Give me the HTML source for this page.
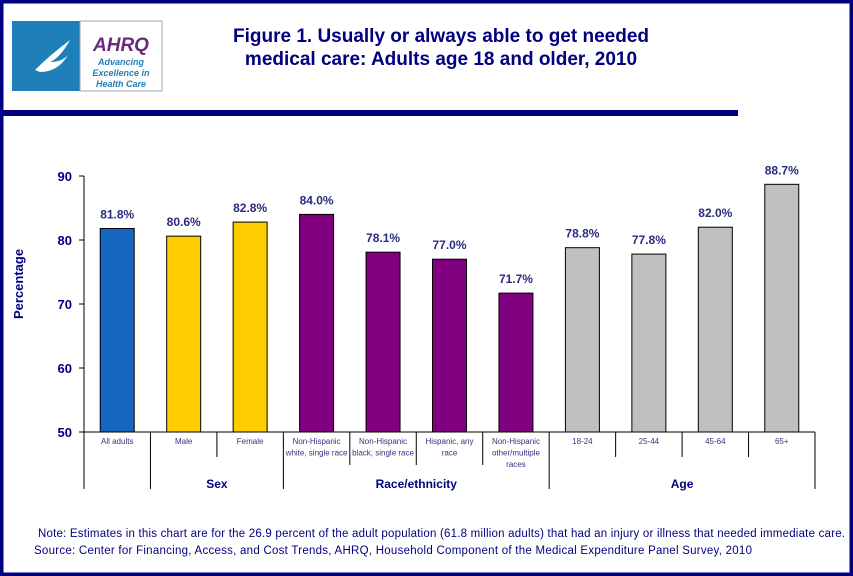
<!DOCTYPE html>
<html><head><meta charset="utf-8"><style>
body{margin:0;background:#fff}
svg{display:block;font-family:"Liberation Sans",Arial,sans-serif}
</style></head><body>
<svg id="c" width="853" height="576" viewBox="0 0 853 576">
<rect x="0" y="0" width="853" height="576" fill="#fff"/>
<rect x="1.5" y="1.5" width="850" height="573" fill="none" stroke="#000080" stroke-width="4"/>
<g>
<rect x="12" y="21" width="68" height="70" fill="#1f7fb8"/>
<path d="M35 70 Q50 55 70 40 Q60 58 50 62 Q62 62 68 55 Q58 72 40 72 Z" fill="#fff"/>
<rect x="80" y="21" width="82" height="70" fill="#fff" stroke="#9ab" stroke-width="1"/>
<text x="121" y="51" text-anchor="middle" font-size="19" font-weight="bold" font-style="italic" fill="#6a2a7a">AHRQ</text>
<text x="121" y="65" text-anchor="middle" font-size="9" font-style="italic" font-weight="bold" fill="#1f7fb8">Advancing</text>
<text x="121" y="76" text-anchor="middle" font-size="9" font-style="italic" font-weight="bold" fill="#1f7fb8">Excellence in</text>
<text x="121" y="87" text-anchor="middle" font-size="9" font-style="italic" font-weight="bold" fill="#1f7fb8">Health Care</text>
</g>
<text x="441" y="42" text-anchor="middle" font-size="19" font-weight="bold" fill="#000080">Figure 1. Usually or always able to get needed</text>
<text x="441" y="65" text-anchor="middle" font-size="19" font-weight="bold" fill="#000080">medical care: Adults age 18 and older, 2010</text>
<rect x="0" y="110" width="738" height="6" fill="#000080"/>
<text transform="translate(23,284) rotate(-90)" text-anchor="middle" font-size="13" font-weight="bold" fill="#000080">Percentage</text>
<g id="plot"></g>
<text x="845" y="537" text-anchor="end" font-size="11.5" textLength="807" fill="#000080">Note: Estimates in this chart are for the 26.9 percent of the adult population (61.8 million adults) that had an injury or illness that needed immediate care.</text>
<text x="34" y="554" font-size="11.5" textLength="718" fill="#000080">Source: Center for Financing, Access, and Cost Trends, AHRQ, Household Component of the Medical Expenditure Panel Survey,  2010</text>
</svg>
<script>
const categories=[["All adults"],["Male"],["Female"],["Non-Hispanic","white, single race"],["Non-Hispanic","black, single race"],["Hispanic, any","race"],["Non-Hispanic","other/multiple","races"],["18-24"],["25-44"],["45-64"],["65+"]];
const values=[81.8,80.6,82.8,84.0,78.1,77.0,71.7,78.8,77.8,82.0,88.7];
const valueLabels=["81.8%","80.6%","82.8%","84.0%","78.1%","77.0%","71.7%","78.8%","77.8%","82.0%","88.7%"];
const colors=["#1566c0","#ffcc00","#ffcc00","#800080","#800080","#800080","#800080","#c0c0c0","#c0c0c0","#c0c0c0","#c0c0c0"];
const yTicks=[50,60,70,80,90];
const groups=[{name:"Sex",start:1,end:3},{name:"Race/ethnicity",start:3,end:7},{name:"Age",start:7,end:11}];
const NS="http://www.w3.org/2000/svg";
const g=document.getElementById('plot');
const L=84,R=815,T=176,B=432,ymin=50,ymax=90;
const bw=(R-L)/categories.length;
function y(v){return B-(v-ymin)/(ymax-ymin)*(B-T);}
function x(i){return L+bw*i;}
function el(t,a){const e=document.createElementNS(NS,t);for(const k in a)e.setAttribute(k,a[k]);g.appendChild(e);return e;}
yTicks.forEach(t=>{
 const tk=el('line',{x1:L-5,x2:L,y1:y(t),y2:y(t),stroke:'#000'});
 
 
 const tx=el('text',{x:L-12,y:y(t)+5,'text-anchor':'end','font-size':13,'font-weight':'bold',fill:'#000080'});
 tx.textContent=t;
 
 
});
values.forEach((v,i)=>{
 const cx=x(i)+bw/2;
 const r=el('rect',{x:cx-17,y:y(v),width:34,height:B-y(v),fill:colors[i],stroke:'#000','stroke-width':1});
 
 
 const t=el('text',{x:cx,y:y(v)-10,'text-anchor':'middle','font-size':12,'font-weight':'bold',fill:'#2a2a80'});
 t.textContent=valueLabels[i];
 
 
 categories[i].forEach((ln,j)=>{
  const c=el('text',{x:cx,y:444+j*11.5,'text-anchor':'middle','font-size':8,fill:'#333380'});
  c.textContent=ln;
  
  
 });
});
const ax=el('line',{x1:L,x2:L,y1:T,y2:B,stroke:'#000'});


const xa=el('line',{x1:L,x2:R,y1:B,y2:B,stroke:'#000'});


const longIdx=[0,1,3,7,11];
const sepLen={2:457,4:465,5:465,6:465,8:457,9:457,10:457};
for(let i=0;i<=categories.length;i++){
 const yy=longIdx.includes(i)?489:sepLen[i];
 const s=el('line',{x1:x(i),x2:x(i),y1:B,y2:yy,stroke:'#000'});
 
 
}
groups.forEach(gr=>{
 const t=el('text',{x:(x(gr.start)+x(gr.end))/2,y:488,'text-anchor':'middle','font-size':12,'font-weight':'bold',fill:'#000080'});
 t.textContent=gr.name;
 
 
});
</script>
</body></html>
